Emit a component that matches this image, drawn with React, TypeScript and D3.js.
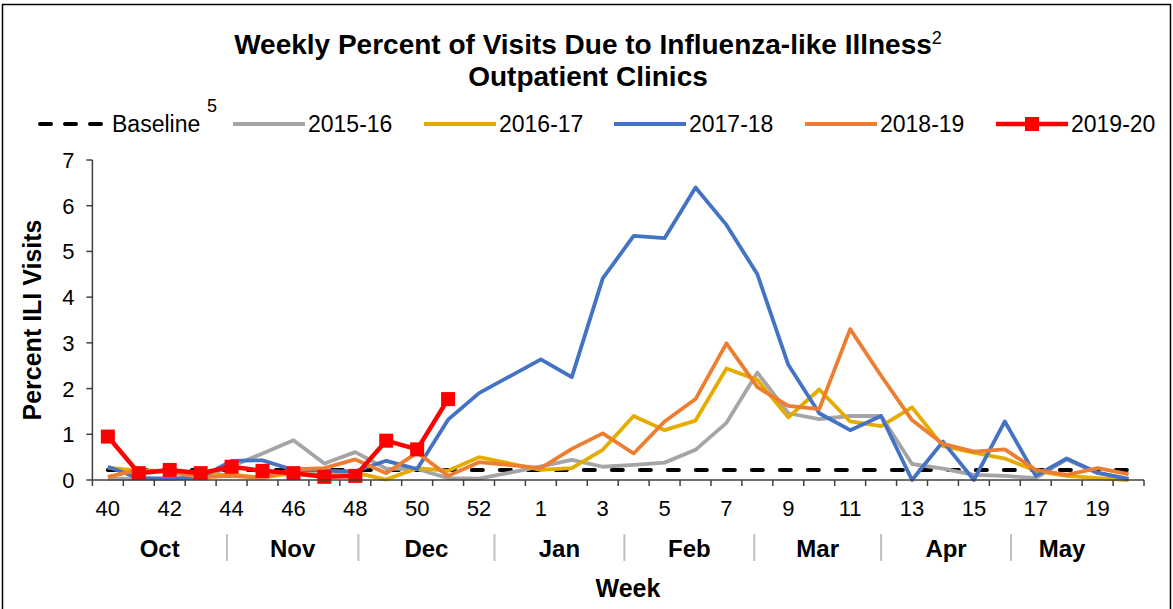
import * as d3 from "d3";

const weeks = [40, 41, 42, 43, 44, 45, 46, 47, 48, 49, 50, 51, 52, 53, 1, 2, 3, 4, 5, 6, 7, 8, 9, 10, 11, 12, 13, 14, 15, 16, 17, 18, 19, 20];

const baselineValue = 0.22;

const s1516 = [0.03, 0.03, 0.03, 0.05, 0.3, 0.58, 0.87, 0.36, 0.61, 0.25, 0.24, 0.04, 0.03, 0.16, 0.3, 0.44, 0.29, 0.33, 0.38, 0.66, 1.25, 2.35, 1.46, 1.33, 1.4, 1.4, 0.35, 0.25, 0.11, 0.09, 0.04, 0.45, 0.15, 0.03];
const s1617 = [0.27, 0.2, 0.18, 0.1, 0.12, 0.05, 0.15, 0.1, 0.16, 0.01, 0.26, 0.2, 0.5, null, 0.22, 0.26, 0.66, 1.4, 1.09, 1.3, 2.44, 2.19, 1.37, 1.98, 1.28, 1.18, 1.59, 0.74, 0.6, 0.47, 0.2, 0.09, 0.04, 0.0];
const s1718 = [0.29, 0.04, 0.03, 0.05, 0.42, 0.43, 0.22, 0.2, 0.19, 0.42, 0.24, 1.32, 1.9, null, 2.64, 2.25, 4.41, 5.34, 5.29, 6.4, 5.58, 4.5, 2.52, 1.46, 1.09, 1.4, 0.0, 0.84, 0.0, 1.28, 0.09, 0.47, 0.16, 0.02];
const s1819 = [0.07, 0.22, 0.18, 0.06, 0.09, 0.04, 0.23, 0.26, 0.45, 0.15, 0.6, 0.09, 0.39, null, 0.26, 0.68, 1.02, 0.58, 1.28, 1.77, 2.99, 2.03, 1.62, 1.55, 3.3, 2.28, 1.31, 0.79, 0.62, 0.67, 0.22, 0.11, 0.26, 0.13];
const s1920 = [0.95, 0.15, 0.22, 0.15, 0.29, 0.2, 0.15, 0.07, 0.09, 0.86, 0.67, 1.77];

const yTicks = [0, 1, 2, 3, 4, 5, 6, 7];

// month name and its span, in weeks, along the axis
const months = ["Oct", "Nov", "Dec", "Jan", "Feb", "Mar", "Apr", "May"];
const monthSpans = [4.35, 4.25, 4.4, 4.2, 4.2, 4.1, 4.2, 4.3];

const series = [
  { name: "2015-16", values: s1516, color: "#A5A5A5" },
  { name: "2016-17", values: s1617, color: "#E5AC00" },
  { name: "2017-18", values: s1718, color: "#4472C4" },
  { name: "2018-19", values: s1819, color: "#ED7D31" },
];

const W = 1173;
const H = 609;
const FONT = "'Liberation Sans', Arial, sans-serif";

export default function App() {
  const left = 92.4;
  const right = 1144;
  const top = 160;
  const bottom = 480;

  const xBand = d3
    .scaleBand<number>()
    .domain(d3.range(weeks.length))
    .range([left, right])
    .padding(0);
  const bw = xBand.bandwidth();
  const x = (i: number) => (xBand(i) ?? 0) + bw / 2;
  const y = d3.scaleLinear().domain([0, 7]).range([bottom, top]);

  const line = d3
    .line<[number, number]>()
    .x((d) => x(d[0]))
    .y((d) => y(d[1]));

  // week 53 is empty for most seasons; the line just runs across it
  const pts = (vals: (number | null)[]) =>
    vals
      .map((v, i) => [i, v] as [number, number | null])
      .filter((d) => d[1] !== null) as [number, number][];

  const baselinePts = weeks.map((_, i) => [i, baselineValue] as [number, number]);

  const monthEdges = monthSpans.reduce<number[]>((acc, s) => {
    acc.push((acc.length ? acc[acc.length - 1] : 0) + s);
    return acc;
  }, []);
  const monthX = (w: number) => left + w * bw;

  const legend = [
    { name: "Baseline", x: 37, kind: "base" },
    { name: "2015-16", x: 233, kind: "line", color: "#A5A5A5" },
    { name: "2016-17", x: 424, kind: "line", color: "#E5AC00" },
    { name: "2017-18", x: 614, kind: "line", color: "#4472C4" },
    { name: "2018-19", x: 805, kind: "line", color: "#ED7D31" },
    { name: "2019-20", x: 996, kind: "marker", color: "#FF0000" },
  ];
  const legY = 124;
  const legLen = 72;

  return (
    <div style={{ position: "fixed", left: 0, top: 0 }}>
      <svg width={W} height={H} style={{ display: "block", fontFamily: FONT }}>
        <rect x={0} y={0} width={W} height={H} fill="#fff" />
        <rect x={2.5} y={4.5} width={W - 5} height={H} fill="none" stroke="#000" strokeWidth={1.5} />

        {/* title */}
        <text x={588} y={54} textAnchor="middle" fontSize={28} fontWeight="bold" fill="#000">
          Weekly Percent of Visits Due to Influenza-like Illness
          <tspan fontSize={18} fontWeight="normal" dy={-10}>2</tspan>
        </text>
        <text x={588} y={86} textAnchor="middle" fontSize={28} fontWeight="bold" fill="#000">
          Outpatient Clinics
        </text>

        {/* legend */}
        {legend.map((l) => (
          <g key={l.name}>
            {l.kind === "base" ? (
              <line x1={l.x + 3} x2={l.x + legLen} y1={legY} y2={legY} stroke="#000" strokeWidth={4} strokeDasharray="11,14" strokeLinecap="round" />
            ) : (
              <line x1={l.x} x2={l.x + legLen} y1={legY} y2={legY} stroke={l.color} strokeWidth={l.kind === "marker" ? 4.5 : 4} />
            )}
            {l.kind === "marker" && (
              <rect x={l.x + legLen / 2 - 7} y={legY - 7} width={14} height={14} fill="#FF0000" />
            )}
            <text x={l.x + legLen + 3} y={legY + 8} fontSize={23} fill="#000">
              {l.name}
            </text>
            {l.kind === "base" && (
              <text x={l.x + legLen + 3 + 95} y={legY - 12} fontSize={18} fill="#000">5</text>
            )}
          </g>
        ))}

        {/* y axis */}
        <line x1={left} x2={left} y1={top} y2={bottom} stroke="#404040" strokeWidth={1.5} />
        {yTicks.map((t) => (
          <g key={t}>
            <line x1={left - 6} x2={left} y1={y(t)} y2={y(t)} stroke="#404040" strokeWidth={1.5} />
            <text x={left - 18} y={y(t) + 8} textAnchor="end" fontSize={22} fill="#000">
              {t}
            </text>
          </g>
        ))}
        <text
          transform={`translate(41,${(top + bottom) / 2}) rotate(-90)`}
          textAnchor="middle"
          fontSize={25}
          fontWeight="bold"
          fill="#000"
        >
          Percent ILI Visits
        </text>

        {/* lines */}
        <path d={line(baselinePts) ?? ""} fill="none" stroke="#000" strokeWidth={4} strokeDasharray="11,17" strokeLinecap="round" />
        {series.map((s) => (
          <path key={s.name} d={line(pts(s.values)) ?? ""} fill="none" stroke={s.color} strokeWidth={3.8} strokeLinejoin="round" />
        ))}
        <path d={line(pts(s1920)) ?? ""} fill="none" stroke="#FF0000" strokeWidth={4.5} strokeLinejoin="round" />
        {pts(s1920).map((d) => (
          <rect key={d[0]} x={x(d[0]) - 7} y={y(d[1]) - 7} width={14} height={14} fill="#FF0000" />
        ))}

        {/* x axis */}
        <line x1={left} x2={right} y1={bottom} y2={bottom} stroke="#404040" strokeWidth={1.5} />
        {d3.range(weeks.length + 1).map((i) => (
          <line key={i} x1={left + i * bw} x2={left + i * bw} y1={bottom} y2={bottom + 6} stroke="#404040" strokeWidth={1.5} />
        ))}
        {weeks.map((w, i) =>
          i % 2 === 0 ? (
            <text key={i} x={x(i)} y={516} textAnchor="middle" fontSize={22} fill="#000">
              {w}
            </text>
          ) : null
        )}
        {monthEdges.slice(0, -1).map((e, i) => (
          <line key={i} x1={monthX(e)} x2={monthX(e)} y1={534} y2={561} stroke="#BFBFBF" strokeWidth={2} />
        ))}
        {months.map((m, i) => {
          const a = i === 0 ? 0 : monthEdges[i - 1];
          const b = i === months.length - 1 ? weeks.length - 1 : monthEdges[i];
          return (
            <text key={m} x={monthX((a + b) / 2)} y={557} textAnchor="middle" fontSize={24} fontWeight="bold" fill="#000">
              {m}
            </text>
          );
        })}
        <text x={628} y={597} textAnchor="middle" fontSize={25} fontWeight="bold" fill="#000">
          Week
        </text>
      </svg>
    </div>
  );
}
